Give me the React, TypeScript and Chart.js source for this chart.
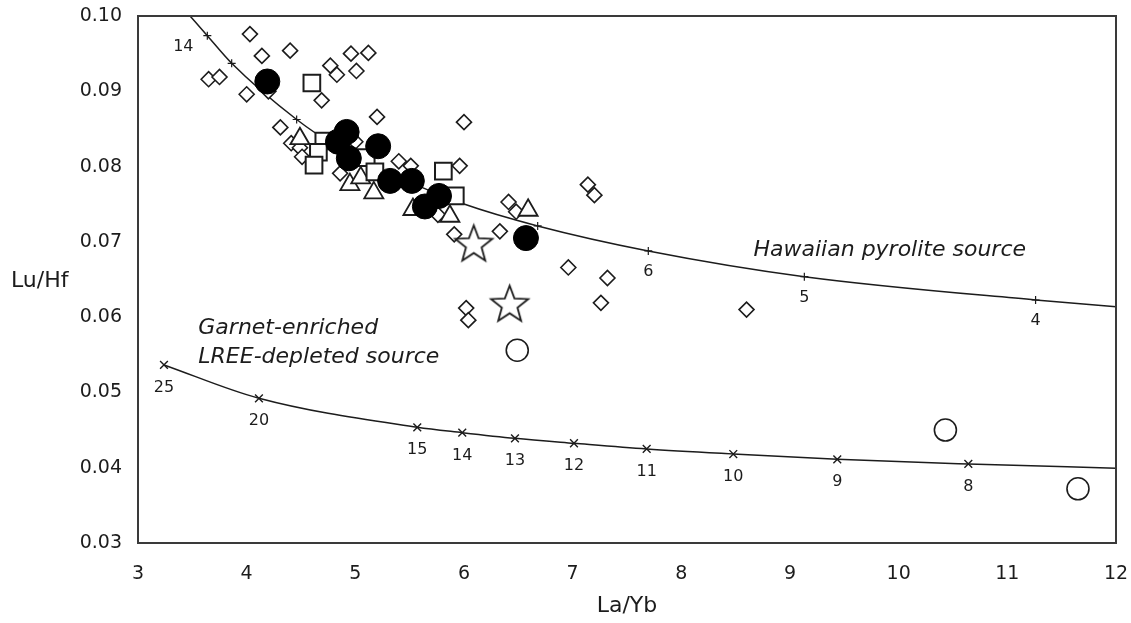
import { useEffect, useRef } from 'react';
import { Chart, registerables } from 'chart.js';

Chart.register(...registerables);

const FONT = '"DejaVu Sans", Verdana, sans-serif';
const INK = '#1c1c1c';

// ---------- axes ----------
const xMin = 3;
const xMax = 12;
const yMin = 0.03;
const yMax = 0.10;

// ---------- samples ----------
const filledCircleX = [4.19, 4.92, 4.84, 4.94, 5.21, 5.32, 5.52, 5.77, 5.64, 6.57];
const filledCircleY = [0.0913, 0.0846, 0.0833, 0.0811, 0.0827, 0.0781, 0.0781, 0.0761, 0.0747, 0.0705];

const openCircleX = [6.49, 10.43, 11.65];
const openCircleY = [0.0556, 0.0450, 0.0372];

const squareX = [4.60, 4.71, 4.66, 4.62, 5.10, 5.18, 5.81, 5.92];
const squareY = [0.0911, 0.0834, 0.0819, 0.0802, 0.0812, 0.0793, 0.0794, 0.0761];

const triangleX = [4.49, 4.95, 5.05, 5.17, 5.53, 5.87, 6.59];
const triangleY = [0.0837, 0.0776, 0.0785, 0.0765, 0.0743, 0.0734, 0.0742];

const diamondX = [
  4.03, 4.14, 4.40, 3.65, 3.75, 4.00, 4.77, 4.83, 4.96, 5.12, 5.01, 4.69, 5.20,
  4.31, 4.41, 4.49, 4.51, 4.86, 5.40, 5.51, 5.96, 6.00, 5.76, 5.91, 6.33, 6.41,
  6.48, 7.14, 7.20, 6.96, 7.32, 7.26, 6.02, 6.04, 8.60, 5.00, 4.20,
];
const diamondY = [
  0.0976, 0.0947, 0.0954, 0.0916, 0.0919, 0.0896, 0.0934, 0.0922, 0.0950, 0.0951, 0.0927, 0.0888, 0.0866,
  0.0852, 0.0831, 0.0825, 0.0813, 0.0791, 0.0807, 0.0801, 0.0801, 0.0859, 0.0736, 0.0710, 0.0714, 0.0753,
  0.0740, 0.0776, 0.0762, 0.0666, 0.0652, 0.0619, 0.0612, 0.0596, 0.0610, 0.0833, 0.0900,
];

const starX = [6.09, 6.42];
const starY = [0.0696, 0.0616];

// ---------- model curves ----------
const hawaiianCurveX = [3.479, 3.638, 3.862, 4.46, 4.831, 5.199, 5.567, 5.979, 6.678, 7.696, 9.132, 11.26, 12.0];
const hawaiianCurveY = [0.1, 0.09738, 0.09372, 0.08625, 0.08263, 0.07984, 0.07751, 0.07512, 0.07211, 0.06879, 0.06537, 0.06228, 0.06139];
const hawaiianTickX = [3.638, 3.862, 4.46, 6.678, 7.696, 9.132, 11.26];
const hawaiianTickY = [0.09738, 0.09372, 0.08625, 0.07211, 0.06879, 0.06537, 0.06228];
const hawaiianTickLabels = ['14', '', '', '', '6', '5', '4'];

const garnetTickX = [3.239, 4.113, 5.57, 5.984, 6.469, 7.012, 7.681, 8.478, 9.435, 10.641];
const garnetTickY = [0.05365, 0.04922, 0.04537, 0.04466, 0.04391, 0.04325, 0.04249, 0.04182, 0.04112, 0.0405];
const garnetTickLabels = ['25', '20', '15', '14', '13', '12', '11', '10', '9', '8'];
const garnetEndX = [12.0];
const garnetEndY = [0.03993];

// ---------- annotation text ----------
const xTitle = 'La/Yb';
const yTitle = 'Lu/Hf';
const hawaiianLabel = 'Hawaiian pyrolite source';
const hawaiianLabelAt = [8.664, 0.06892];
const garnetLabelLines = ['Garnet-enriched', 'LREE-depleted source'];
const garnetLabelAt = [3.555, 0.05856];

const pts = (xs: number[], ys: number[]) => xs.map((x, i) => ({ x, y: ys[i] }));

function makeStar(R: number): HTMLCanvasElement {
  const size = Math.ceil(2 * R + 6);
  const c = document.createElement('canvas');
  c.width = size;
  c.height = size;
  const ctx = c.getContext('2d')!;
  const cx = size / 2;
  const cy = size / 2;
  const r = R * 0.42;
  ctx.beginPath();
  for (let i = 0; i < 10; i++) {
    const ang = -Math.PI / 2 + (i * Math.PI) / 5;
    const rad = i % 2 === 0 ? R : r;
    const px = cx + rad * Math.cos(ang);
    const py = cy + rad * Math.sin(ang);
    if (i === 0) ctx.moveTo(px, py);
    else ctx.lineTo(px, py);
  }
  ctx.closePath();
  ctx.fillStyle = '#ffffff';
  ctx.fill();
  ctx.lineWidth = 1.8;
  ctx.strokeStyle = INK;
  ctx.lineJoin = 'miter';
  ctx.stroke();
  return c;
}

const decorPlugin = {
  id: 'decor',
  afterDatasetsDraw(chart: any) {
    const { ctx, chartArea } = chart;
    const xs = chart.scales.x;
    const ys = chart.scales.y;
    ctx.save();
    // frame
    ctx.strokeStyle = '#3a3a3a';
    ctx.lineWidth = 2;
    ctx.strokeRect(chartArea.left, chartArea.top, chartArea.right - chartArea.left, chartArea.bottom - chartArea.top);

    // curve tick labels
    ctx.fillStyle = INK;
    ctx.font = `16px ${FONT}`;
    ctx.textAlign = 'center';
    ctx.textBaseline = 'middle';
    garnetTickLabels.forEach((t, i) => {
      ctx.fillText(t, xs.getPixelForValue(garnetTickX[i]), ys.getPixelForValue(garnetTickY[i]) + 23);
    });
    hawaiianTickLabels.forEach((t, i) => {
      if (!t) return;
      const off = i === 0 ? [-24, 11] : [0, 21];
      ctx.fillText(t, xs.getPixelForValue(hawaiianTickX[i]) + off[0], ys.getPixelForValue(hawaiianTickY[i]) + off[1]);
    });

    // italic annotations
    ctx.font = `italic 22px ${FONT}`;
    ctx.textAlign = 'left';
    ctx.fillText(hawaiianLabel, xs.getPixelForValue(hawaiianLabelAt[0]), ys.getPixelForValue(hawaiianLabelAt[1]));
    garnetLabelLines.forEach((t, i) => {
      ctx.fillText(t, xs.getPixelForValue(garnetLabelAt[0]), ys.getPixelForValue(garnetLabelAt[1]) + i * 29);
    });

    // horizontal y title
    ctx.font = `22px ${FONT}`;
    ctx.textAlign = 'left';
    ctx.fillText(yTitle, 11, (chartArea.top + chartArea.bottom) / 2 + 2);
    ctx.restore();
  },
};

export default function App() {
  const ref = useRef<HTMLCanvasElement>(null);

  useEffect(() => {
    if (!ref.current) return;
    const star = makeStar(19.5);
    const openStyle = { backgroundColor: '#ffffff', borderColor: INK, showLine: false };

    const chart = new Chart(ref.current, {
      type: 'scatter',
      data: {
        datasets: [
          {
            label: 'filled circles',
            data: pts(filledCircleX, filledCircleY),
            pointStyle: 'circle',
            pointRadius: 12.5,
            pointBorderWidth: 1,
            backgroundColor: '#000000',
            borderColor: '#000000',
            order: 0,
          },
          {
            label: 'stars',
            data: pts(starX, starY),
            pointStyle: star,
            pointRadius: 20,
            order: 1,
            ...openStyle,
          },
          {
            label: 'squares',
            data: pts(squareX, squareY),
            pointStyle: 'rect',
            pointRadius: 11.8,
            pointBorderWidth: 2,
            order: 2,
            ...openStyle,
          },
          {
            label: 'triangles',
            data: pts(triangleX, triangleY),
            pointStyle: 'triangle',
            pointRadius: 11,
            pointBorderWidth: 1.8,
            order: 3,
            ...openStyle,
          },
          {
            label: 'diamonds',
            data: pts(diamondX, diamondY),
            pointStyle: 'rectRot',
            pointRadius: 7.5,
            pointBorderWidth: 1.6,
            order: 4,
            ...openStyle,
          },
          {
            label: 'open circles',
            data: pts(openCircleX, openCircleY),
            pointStyle: 'circle',
            pointRadius: 11,
            pointBorderWidth: 1.6,
            order: 5,
            ...openStyle,
          },
          {
            label: 'hawaiian ticks',
            data: pts(hawaiianTickX, hawaiianTickY),
            pointStyle: 'cross',
            pointRadius: 4,
            pointBorderWidth: 1.2,
            borderColor: INK,
            showLine: false,
            order: 6,
          },
          {
            label: 'garnet ticks',
            data: pts(garnetTickX, garnetTickY),
            pointStyle: 'crossRot',
            pointRadius: 5.5,
            pointBorderWidth: 1.4,
            borderColor: INK,
            showLine: false,
            order: 6,
          },
          {
            label: 'Hawaiian pyrolite source',
            data: pts(hawaiianCurveX, hawaiianCurveY),
            showLine: true,
            cubicInterpolationMode: 'monotone',
            pointRadius: 0,
            borderColor: INK,
            borderWidth: 1.5,
            order: 7,
          },
          {
            label: 'Garnet-enriched LREE-depleted source',
            data: pts([...garnetTickX, ...garnetEndX], [...garnetTickY, ...garnetEndY]),
            showLine: true,
            cubicInterpolationMode: 'monotone',
            pointRadius: 0,
            borderColor: INK,
            borderWidth: 1.5,
            order: 7,
          },
        ] as any,
      },
      options: {
        responsive: false,
        animation: false,
        events: [],
        layout: { autoPadding: false, padding: { top: 16, right: 15, bottom: 0, left: 0 } },
        plugins: {
          legend: { display: false },
          tooltip: { enabled: false },
        },
        scales: {
          x: {
            type: 'linear',
            min: xMin,
            max: xMax,
            grid: { display: false, drawTicks: false },
            border: { display: false },
            ticks: {
              stepSize: 1,
              autoSkip: false,
              maxRotation: 0,
              padding: 20,
              color: INK,
              font: { family: FONT, size: 19 },
            },
            title: {
              display: true,
              text: xTitle,
              color: INK,
              font: { family: FONT, size: 22 },
              padding: { top: 0, bottom: 4 },
            },
            afterFit: (s: any) => {
              s.height = 80;
              s.paddingLeft = 0;
              s.paddingRight = 0;
            },
          },
          y: {
            type: 'linear',
            min: yMin,
            max: yMax,
            grid: { display: false, drawTicks: false },
            border: { display: false },
            ticks: {
              stepSize: 0.01,
              padding: 16,
              color: INK,
              font: { family: FONT, size: 19 },
              callback: (v: any) => Number(v).toFixed(2),
            },
            afterFit: (s: any) => {
              s.width = 138;
              s.paddingTop = 0;
              s.paddingBottom = 0;
            },
          },
        },
      } as any,
      plugins: [decorPlugin],
    });
    return () => chart.destroy();
  }, []);

  return (
    <div style={{ position: 'fixed', left: 0, top: 0, width: 1131, height: 623, background: '#fff' }}>
      <canvas ref={ref} width={1131} height={623} style={{ display: 'block' }} />
    </div>
  );
}
